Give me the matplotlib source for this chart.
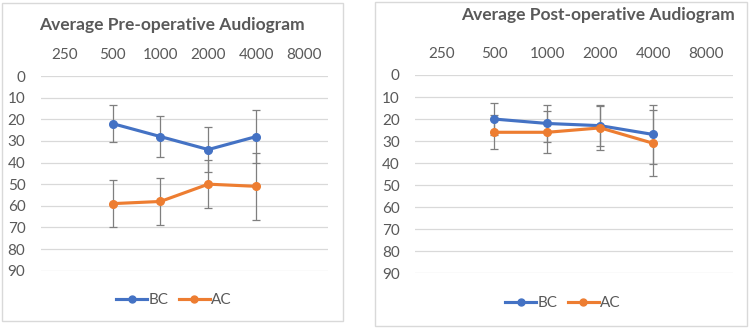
import matplotlib
matplotlib.use("Agg")
import matplotlib.pyplot as plt
from matplotlib.patches import Rectangle
from matplotlib.lines import Line2D

plt.rcParams['font.family'] = ['Lato', 'DejaVu Sans']

freqs = ["250", "500", "1000", "2000", "4000", "8000"]
data_freqs = ["500", "1000", "2000", "4000"]

pre_bc = [22, 28, 34, 28]
pre_bc_err = [8.7, 9.5, 10.5, 12.2]
pre_ac = [59, 58, 50, 51]
pre_ac_err = [10.7, 11, 11, 15.6]

post_bc = [20, 22, 23, 27]
post_bc_err = [7.4, 8.2, 9.2, 13.2]
post_ac = [26, 26, 24, 31]
post_ac_err = [7.7, 9.5, 10, 15]

yticks = [0, 10, 20, 30, 40, 50, 60, 70, 80, 90]

BLUE = "#4472C4"
ORANGE = "#ED7D31"
TXT = "#595959"
GRID = "#D9D9D9"
ERR = "#7F7F7F"

W, H = 750, 328
fig = plt.figure(figsize=(W/100, H/100), dpi=100)

def frac(x0, y0, x1, y1):
    return [x0/W, 1 - y1/H, (x1-x0)/W, (y1-y0)/H]

# panel borders
for (x0, y0, x1, y1) in [(2, 3, 343, 321), (375, 2, 747, 326)]:
    fig.patches.append(Rectangle((x0/W, 1-y1/H), (x1-x0)/W, (y1-y0)/H,
                                 transform=fig.transFigure, fill=False,
                                 edgecolor=GRID, linewidth=1.0))

def draw(ax, bc, bce, ac, ace, legend_anchor):
    xi = [freqs.index(f) for f in data_freqs]
    ax.errorbar(xi, bc, yerr=bce, color=BLUE, lw=2.25, marker='o', ms=5.5,
                ecolor=ERR, elinewidth=0.9, capsize=3, capthick=0.9, label="BC", zorder=3)
    ax.errorbar(xi, ac, yerr=ace, color=ORANGE, lw=2.25, marker='o', ms=5.5,
                ecolor=ERR, elinewidth=0.9, capsize=3, capthick=0.9, label="AC", zorder=3)
    ax.set_xlim(-0.5, len(freqs)-0.5)
    ax.set_ylim(90, 0)
    ax.set_xticks(range(len(freqs)))
    ax.set_xticklabels(freqs)
    ax.xaxis.tick_top()
    ax.set_yticks(yticks)
    ax.tick_params(axis='both', length=0, labelsize=11, labelcolor=TXT)
    ax.tick_params(axis='x', pad=10)
    ax.tick_params(axis='y', pad=11)
    for s in ax.spines.values():
        s.set_visible(False)
    ax.grid(axis='y', color=GRID, lw=0.9)
    ax.set_axisbelow(True)
    hh = [Line2D([], [], color=BLUE, lw=2.25, marker='o', ms=5),
          Line2D([], [], color=ORANGE, lw=2.25, marker='o', ms=5)]
    leg = fig.legend(hh, ["BC", "AC"], loc='center', bbox_to_anchor=legend_anchor,
                     ncol=2, frameon=False, fontsize=11, handlelength=2.0,
                     handletextpad=0.1, columnspacing=0.7)
    for t in leg.get_texts():
        t.set_color(TXT)

ax1 = fig.add_axes(frac(40.7, 76, 328, 270.7))
draw(ax1, pre_bc, pre_bc_err, pre_ac, pre_ac_err, (174/W, 1-300/H))
ax2 = fig.add_axes(frac(415, 75, 732.7, 273.3))
draw(ax2, post_bc, post_bc_err, post_ac, post_ac_err, (563/W, 1-303/H))

fig.text(172/W, 1-25/H, "Average Pre-operative Audiogram", ha='center', va='center',
         fontsize=12.5, fontweight='bold', color=TXT)
fig.text(598/W, 1-15/H, "Average Post-operative Audiogram", ha='center', va='center',
         fontsize=12.5, fontweight='bold', color=TXT)

fig.savefig("out.png", dpi=100)
